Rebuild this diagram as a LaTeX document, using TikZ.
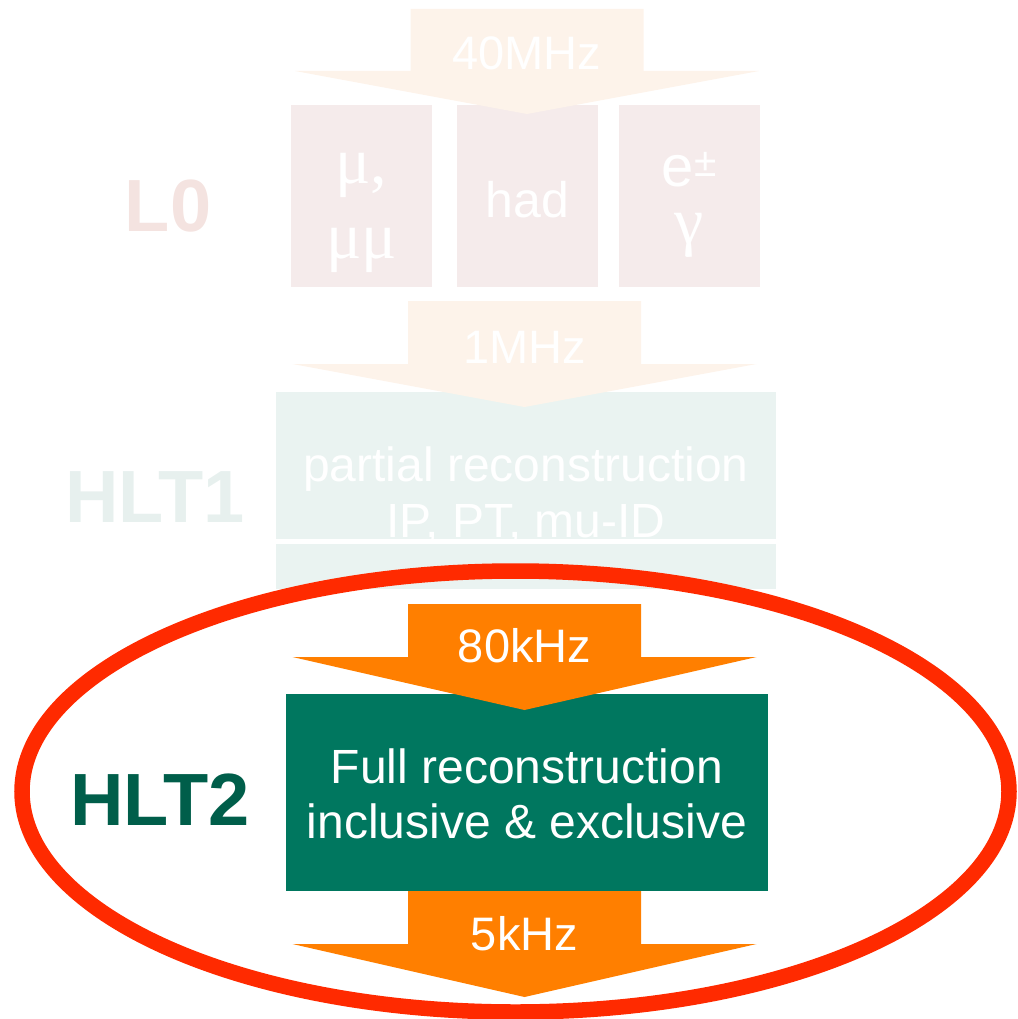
\documentclass[tikz,border=0pt]{standalone}
\usepackage{fontspec}
\setmainfont{Liberation Sans}
\newfontfamily\greekserif{Liberation Serif}
\definecolor{fadeorange}{HTML}{FDF3EA}
\definecolor{fadepink}{HTML}{F5EBEB}
\definecolor{lzerotext}{HTML}{F4E3E0}
\definecolor{hltonebox}{HTML}{EAF3F1}
\definecolor{hltonetext}{HTML}{E7F0EE}
\definecolor{rateorange}{HTML}{FF7F00}
\definecolor{hlttwogreen}{HTML}{00775F}
\definecolor{hlttwotext}{HTML}{005E4A}
\definecolor{ringred}{HTML}{FF2A00}
% block arrow: fill colour, centre x, top, shoulder, tip
\newcommand\ratearrow[5]{%
  \fill[#1] (#2-116.5,#3) -- (#2+116.5,#3) -- (#2+116.5,#4) -- (#2+232,#4)
    -- (#2,#5) -- (#2-232,#4) -- (#2-116.5,#4) -- (#2-116.5,#3) -- cycle;}
\begin{document}
\begin{tikzpicture}[x=1pt,y=-1pt,
  every node/.style={inner sep=0pt,outer sep=0pt},
  panel/.style={rectangle,anchor=north west},
  ratetext/.style={anchor=base,text=white,font=\fontsize{47}{56}\selectfont},
  boxtext/.style={anchor=base,text=white,font=\fontsize{48}{56}\selectfont},
  greektext/.style={anchor=base,text=white,font=\greekserif\fontsize{66}{72}\selectfont},
  leveltext/.style={anchor=base,font=\bfseries\fontsize{74}{80}\selectfont}]
\useasboundingbox (0,0) rectangle (1017,1019);

% L0 stage
\node[panel,fill=fadepink,minimum width=141pt,minimum height=182pt] (mubox) at (291,105) {};
\node[panel,fill=fadepink,minimum width=141pt,minimum height=182pt] (hadbox) at (457,105) {};
\node[panel,fill=fadepink,minimum width=141pt,minimum height=182pt] (egbox) at (619,105) {};
\ratearrow{fadeorange}{527}{9}{71}{114}
\node[ratetext] (r40) at (527,70) {40MHz};
\node[greektext] (mua) at (mubox.center |- 0,183) {μ,};
\node[greektext] (mub) at (mubox.center |- 0,258) {μμ};
\node[boxtext,font=\fontsize{50}{56}\selectfont] (had) at (hadbox.center |- 0,217) {had};
\node[boxtext,font=\fontsize{58}{64}\selectfont] (ee) at (egbox.center |- 0,186) {e\textsuperscript{±}};
\node[greektext] (gam) at (egbox.center |- 0,243) {γ};
\node[leveltext,text=lzerotext] (lzero) at (168,231) {L0};

% HLT1 stage
\node[panel,fill=hltonebox,minimum width=500pt,minimum height=147pt] (hltonea) at (276,392) {};
\node[panel,fill=hltonebox,minimum width=500pt,minimum height=45pt] (hltoneb) at (276,544) {};
\ratearrow{fadeorange}{524.5}{301}{364}{407}
\node[ratetext] (r1) at (524.5,363) {1MHz};
\node[boxtext] (partial) at (526,481) {partial reconstruction};
\node[boxtext] (ippt) at (526,537) {IP, PT, mu-ID};
\node[leveltext,text=hltonetext] (hltone) at (155,522) {HLT1};

% HLT2 stage
\node[panel,fill=hlttwogreen,minimum width=482pt,minimum height=197pt] (full) at (286,694) {};
\ratearrow{rateorange}{524.5}{604}{657}{710}
\ratearrow{rateorange}{524.5}{891}{944}{997}
\node[ratetext] (r80) at (524.5,662) {80kHz};
\node[ratetext] (r5) at (524.5,950) {5kHz};
\node[boxtext] (fulla) at (527,783) {Full reconstruction};
\node[boxtext] (fullb) at (527,838) {inclusive \& exclusive};
\node[leveltext,text=hlttwotext] (hlttwo) at (160,825) {HLT2};

% highlight ring
\draw[ringred,line width=15.5pt] (515.5,791.5) ellipse [x radius=493.5, y radius=220.5];
\end{tikzpicture}
\end{document}
